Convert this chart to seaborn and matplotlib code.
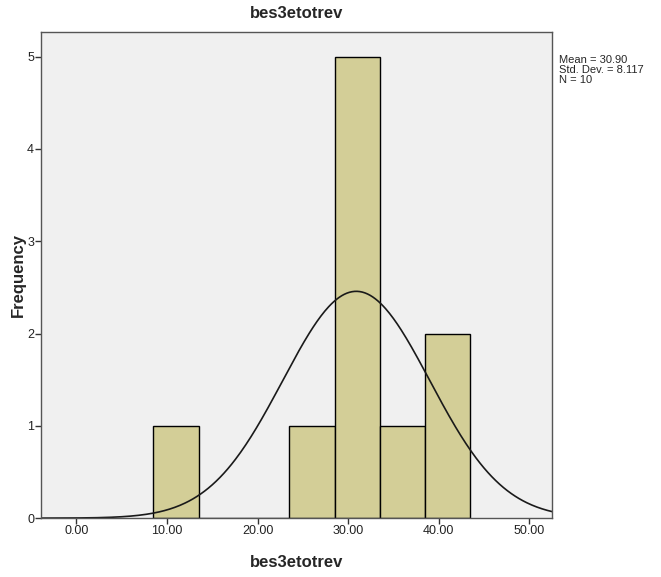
import numpy as np
import pandas as pd
import seaborn as sns
import matplotlib.pyplot as plt

# =========================================
# DATA
# =========================================

bin_edges = [8.5, 13.5, 18.5, 23.5, 28.5, 33.5, 38.5, 43.5]
bin_counts = [1, 0, 0, 1, 5, 1, 2]
mean_val = 30.90
std_val = 8.117
n_val = 10
x_ticks = [0, 10, 20, 30, 40, 50]
y_ticks = [0, 1, 2, 3, 4, 5]

bin_centers = [(a + b) / 2 for a, b in zip(bin_edges[:-1], bin_edges[1:])]
df = pd.DataFrame({"bes3etotrev": bin_centers, "count": bin_counts})

# =========================================
# PLOT
# =========================================

sns.set_style("white")
plt.rcParams['font.family'] = ['Liberation Sans', 'DejaVu Sans']

fig = plt.figure(figsize=(6.61, 5.77), dpi=100)
ax = fig.add_axes([0.062, 0.102, 0.773, 0.843])
ax.set_facecolor("#F0F0F0")

sns.histplot(
    data=df,
    x="bes3etotrev",
    weights="count",
    bins=bin_edges,
    color="#D3CE97",
    edgecolor="black",
    linewidth=1.0,
    alpha=1,
    ax=ax
)

# normal curve scaled to frequency
bw = bin_edges[1] - bin_edges[0]
xs = np.linspace(-4, 53, 400)
ys = n_val * bw / (std_val * np.sqrt(2 * np.pi)) * np.exp(-0.5 * ((xs - mean_val) / std_val) ** 2)
sns.lineplot(x=xs, y=ys, color="#1a1a1a", linewidth=1.2, ax=ax)

ax.set_xlim(-3.9, 52.5)
ax.set_ylim(0, 5.27)
ax.set_xticks(x_ticks)
ax.set_xticklabels([f"{t:.2f}" for t in x_ticks])
ax.set_yticks(y_ticks)

ax.tick_params(axis="both", direction="out", length=4, width=1, color="#333333",
               labelsize=9, labelcolor="#222222", bottom=True, left=True, pad=1)

for s in ax.spines.values():
    s.set_color("#555555")
    s.set_linewidth(1.0)

ax.set_title("bes3etotrev", fontsize=12, fontweight="bold", pad=10)
ax.set_xlabel("bes3etotrev", fontsize=12, fontweight="bold", labelpad=13)
ax.set_ylabel("Frequency", fontsize=12, fontweight="bold", labelpad=1)

fig.text(0.845, 0.905, f"Mean = {mean_val:.2f}\nStd. Dev. = {std_val:.3f}\nN = {n_val}",
         fontsize=8, va="top", ha="left", linespacing=1.0)

plt.savefig("out.png", dpi=100)
